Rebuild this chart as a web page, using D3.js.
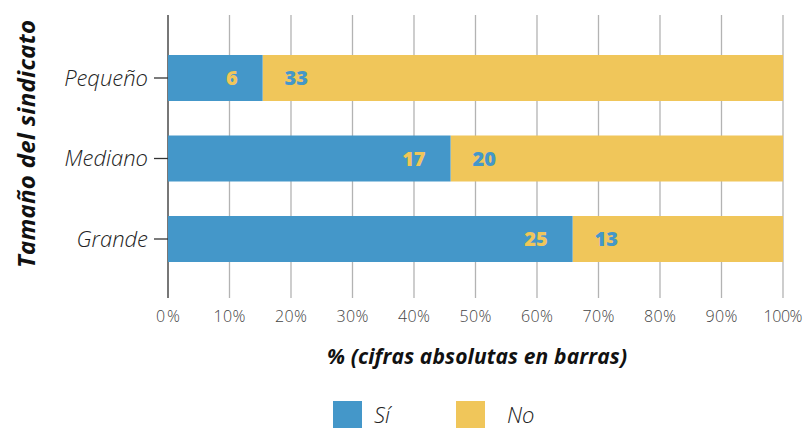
<!DOCTYPE html>
<html lang="es">
<head>
<meta charset="UTF-8">
<script src="https://d3js.org/d3.v7.min.js"></script>
<style>
  body { margin: 0; background: #fff; }
  text { font-family: "Open Sans", "Noto Sans", sans-serif; }
</style>
</head>
<body>
<div id="chart"></div>
<script>
var categories = ["Pequeño", "Mediano", "Grande"];
var si = [6, 17, 25];
var no = [33, 20, 13];
var xTicks = [0, 10, 20, 30, 40, 50, 60, 70, 80, 90, 100];
var seriesNames = ["Sí", "No"];
var colors = ["#4497c9", "#f0c65a"];

var W = 803, H = 428;
var left = 168, plotRight = 783, plotTop = 15, plotBottom = 298;

var svg = d3.select("#chart").append("svg")
  .attr("width", W).attr("height", H);

var x = d3.scaleLinear().domain([0, 100]).range([left, plotRight]);
var y = d3.scaleBand().domain(categories)
  .range([14.75, 302.25]).paddingInner(0.4286).paddingOuter(0.5);

// gridlines
svg.append("g").selectAll("line").data(xTicks).enter().append("line")
  .attr("x1", function(d) { return x(d); }).attr("x2", function(d) { return x(d); })
  .attr("y1", plotTop).attr("y2", plotBottom)
  .attr("stroke", function(d) { return d === 0 ? "#555" : "#b3b3b3"; })
  .attr("stroke-width", function(d) { return d === 0 ? 1.6 : 1.3; });

// tick labels
svg.append("g").selectAll("text").data(xTicks).enter().append("text")
  .attr("x", function(d) { return x(d); }).attr("y", 322)
  .attr("text-anchor", "middle")
  .attr("font-size", 16).attr("font-weight", 300).attr("fill", "#444")
  .attr("textLength", function(d) { return d === 100 ? 39 : (d === 0 ? 24 : 32); })
  .text(function(d) { return d + "%"; });

var rows = categories.map(function(c, i) {
  var t = si[i] + no[i];
  return {cat: c, si: si[i], no: no[i], p: si[i] / t * 100};
});

// bars
var g = svg.append("g");
g.selectAll("rect.no").data(rows).enter().append("rect")
  .attr("x", function(d) { return x(d.p); })
  .attr("y", function(d) { return y(d.cat); })
  .attr("width", function(d) { return x(100) - x(d.p); })
  .attr("height", y.bandwidth())
  .attr("fill", colors[1]);
g.selectAll("rect.si").data(rows).enter().append("rect")
  .attr("x", x(0))
  .attr("y", function(d) { return y(d.cat); })
  .attr("width", function(d) { return x(d.p) - x(0); })
  .attr("height", y.bandwidth())
  .attr("fill", colors[0]);

// value labels
g.selectAll("text.si").data(rows).enter().append("text")
  .attr("x", function(d) { return x(d.p) - 25; })
  .attr("y", function(d) { return y(d.cat) + y.bandwidth() / 2 + 7; })
  .attr("text-anchor", "end").attr("font-size", 20).attr("font-weight", 800)
  .attr("fill", colors[1]).text(function(d) { return d.si; });
g.selectAll("text.no").data(rows).enter().append("text")
  .attr("x", function(d) { return x(d.p) + 22; })
  .attr("y", function(d) { return y(d.cat) + y.bandwidth() / 2 + 7; })
  .attr("text-anchor", "start").attr("font-size", 20).attr("font-weight", 800)
  .attr("fill", colors[0]).text(function(d) { return d.no; });

// y axis ticks + category labels
var yAxis = svg.append("g").attr("transform", "translate(" + x(0) + ",0)")
  .call(d3.axisLeft(y).tickSize(14).tickPadding(6));
yAxis.select(".domain").remove();
yAxis.selectAll("line").attr("stroke", "#333").attr("stroke-width", 1.3);
yAxis.selectAll("text")
  .attr("font-size", 22).attr("font-style", "italic").attr("font-weight", 300)
  .attr("fill", "#222").attr("dy", "0.35em")
  .style("font-family", "'Open Sans', sans-serif");

// axis titles
svg.append("text")
  .attr("transform", "translate(35,144) rotate(-90)")
  .attr("text-anchor", "middle").attr("font-size", 24)
  .attr("font-weight", 700).attr("font-style", "italic").attr("fill", "#111")
  .attr("textLength", 248)
  .text("Tamaño del sindicato");
svg.append("text")
  .attr("x", 477).attr("y", 364).attr("text-anchor", "middle")
  .attr("font-size", 21).attr("font-weight", 700).attr("font-style", "italic")
  .attr("fill", "#111").attr("textLength", 300)
  .text("% (cifras absolutas en barras)");

// legend
var leg = svg.append("g").selectAll("g").data(seriesNames).enter().append("g")
  .attr("transform", function(d, i) { return "translate(" + (333 + i * 123) + ",401)"; });
leg.append("rect").attr("width", 29).attr("height", 27)
  .attr("fill", function(d, i) { return colors[i]; });
leg.append("text").attr("x", function(d, i) { return i === 0 ? 41 : 51; }).attr("y", 22)
  .attr("font-size", 22).attr("font-style", "italic").attr("font-weight", 300)
  .attr("fill", "#222").text(function(d) { return d; });
</script>
</body>
</html>
